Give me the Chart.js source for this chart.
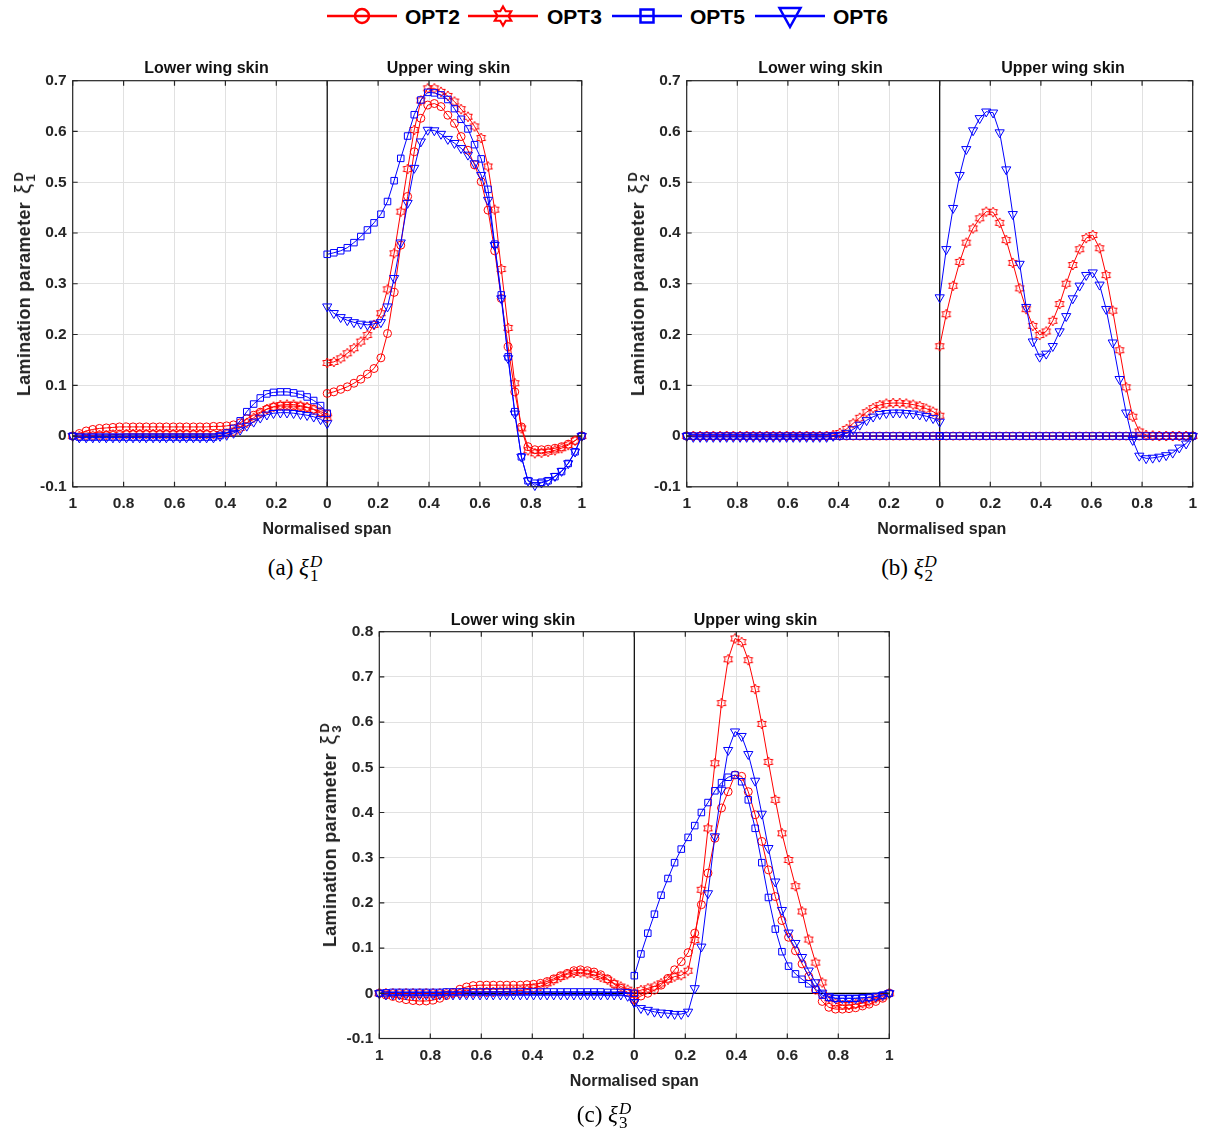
<!DOCTYPE html>
<html><head><meta charset="utf-8">
<script src="https://cdn.jsdelivr.net/npm/chart.js@4.4.1/dist/chart.umd.min.js"></script>
<style>
html,body{margin:0;padding:0;background:#fff;}
body{width:1205px;height:1137px;position:relative;overflow:hidden;font-family:"Liberation Sans",Arial,sans-serif;}
canvas{position:absolute;}
.t{position:absolute;font-weight:bold;color:#111;white-space:nowrap;transform:translate(-50%,-50%);font-size:16px;line-height:20px;}
.yl{position:absolute;font-weight:bold;color:#222;white-space:nowrap;font-size:18px;line-height:24px;transform:translate(-50%,-50%) rotate(-90deg);letter-spacing:0.3px;}
.yl .xi{font-weight:normal;font-size:22px;margin-left:3px;}
.ss{display:inline-flex;flex-direction:column;vertical-align:7px;line-height:12px;font-size:13px;margin-left:2px;}
.cap{position:absolute;font-family:"Liberation Serif","DejaVu Serif",serif;font-size:23px;line-height:26px;white-space:nowrap;transform:translate(-50%,-50%);color:#000;}
.cap .xi{font-style:italic;}
.ss2{display:inline-flex;flex-direction:column;vertical-align:8px;line-height:14px;font-size:17px;margin-left:1px;}
.ss2 .d{font-style:italic;}
.leg{position:absolute;font-weight:bold;font-size:21px;line-height:24px;top:5px;color:#000;}
svg{position:absolute;}
</style>
</head><body>

<!-- legend -->
<svg style="left:327px;top:4px" width="70" height="26"><line x1="0" y1="12" x2="70" y2="12" stroke="#ff0000" stroke-width="2.5"/><circle cx="35" cy="12" r="7" fill="none" stroke="#ff0000" stroke-width="2.5"/></svg>
<div class="leg" style="left:405px">OPT2</div>
<svg style="left:468px;top:4px" width="70" height="26"><line x1="0" y1="12" x2="70" y2="12" stroke="#ff0000" stroke-width="2.5"/><polygon id="hexLeg" fill="none" stroke="#ff0000" stroke-width="2.2"/></svg>
<div class="leg" style="left:547px">OPT3</div>
<svg style="left:612px;top:4px" width="70" height="26"><line x1="0" y1="12" x2="70" y2="12" stroke="#0000ff" stroke-width="2.5"/><rect x="28.5" y="5.5" width="13" height="13" fill="none" stroke="#0000ff" stroke-width="2.5"/></svg>
<div class="leg" style="left:690px">OPT5</div>
<svg style="left:755px;top:4px" width="70" height="28"><line x1="0" y1="12" x2="70" y2="12" stroke="#0000ff" stroke-width="2.5"/><polygon points="24.5,4 45.5,4 35,23" fill="none" stroke="#0000ff" stroke-width="2.5"/></svg>
<div class="leg" style="left:833px">OPT6</div>

<canvas id="ca" width="600" height="480" style="left:0px;top:40px"></canvas>
<canvas id="cb" width="591" height="480" style="left:614px;top:40px"></canvas>
<canvas id="cc" width="600" height="482" style="left:306px;top:590px"></canvas>

<!-- subplot titles -->
<div class="t" style="left:206.5px;top:68px">Lower wing skin</div>
<div class="t" style="left:448.5px;top:68px">Upper wing skin</div>
<div class="t" style="left:820.5px;top:68px">Lower wing skin</div>
<div class="t" style="left:1063px;top:68px">Upper wing skin</div>
<div class="t" style="left:513px;top:619.5px">Lower wing skin</div>
<div class="t" style="left:755.5px;top:619.5px">Upper wing skin</div>

<!-- axis titles -->
<div class="t" style="left:327px;top:529px;color:#222">Normalised span</div>
<div class="t" style="left:941.7px;top:529px;color:#222">Normalised span</div>
<div class="t" style="left:634.3px;top:1081px;color:#222">Normalised span</div>
<div class="yl" style="left:23.5px;top:284px">Lamination parameter <span class="xi">ξ</span><span class="ss"><span>D</span><span>1</span></span></div>
<div class="yl" style="left:638px;top:284px">Lamination parameter <span class="xi">ξ</span><span class="ss"><span>D</span><span>2</span></span></div>
<div class="yl" style="left:330px;top:835px">Lamination parameter <span class="xi">ξ</span><span class="ss"><span>D</span><span>3</span></span></div>

<!-- captions -->
<div class="cap" style="left:295px;top:569px">(a) <span class="xi">ξ</span><span class="ss2"><span class="d">D</span><span>1</span></span></div>
<div class="cap" style="left:909px;top:569px">(b) <span class="xi">ξ</span><span class="ss2"><span class="d">D</span><span>2</span></span></div>
<div class="cap" style="left:604px;top:1116px">(c) <span class="xi">ξ</span><span class="ss2"><span class="d">D</span><span>3</span></span></div>

<script>
// ---------------- data ----------------
// normalised span stations (same on lower and upper skin)
const span = [0,0.026,0.053,0.079,0.105,0.132,0.158,0.184,0.211,0.237,0.263,0.289,0.316,0.342,0.368,0.395,0.421,0.447,0.474,0.5,0.526,0.553,0.579,0.605,0.632,0.658,0.684,0.711,0.737,0.763,0.789,0.816,0.842,0.868,0.895,0.921,0.947,0.974,1];

const xTickValues = [-1,-0.8,-0.6,-0.4,-0.2,0,0.2,0.4,0.6,0.8,1];
const xTickLabels = ['1','0.8','0.6','0.4','0.2','0','0.2','0.4','0.6','0.8','1'];
const yTickValuesAB = [-0.1,0,0.1,0.2,0.3,0.4,0.5,0.6,0.7];
const yTickLabelsAB = ['-0.1','0','0.1','0.2','0.3','0.4','0.5','0.6','0.7'];
const yTickValuesC = [-0.1,0,0.1,0.2,0.3,0.4,0.5,0.6,0.7,0.8];
const yTickLabelsC = ['-0.1','0','0.1','0.2','0.3','0.4','0.5','0.6','0.7','0.8'];

const seriesNames = ['OPT2','OPT3','OPT5','OPT6'];

// (a) xi_1^D
const a_OPT2_lower = [0.043,0.048,0.053,0.056,0.058,0.059,0.059,0.059,0.057,0.053,0.047,0.041,0.034,0.026,0.022,0.020,0.019,0.019,0.018,0.018,0.018,0.018,0.018,0.018,0.018,0.018,0.018,0.018,0.018,0.018,0.018,0.018,0.017,0.016,0.015,0.013,0.010,0.005,0.000];
const a_OPT3_lower = [0.036,0.045,0.052,0.057,0.060,0.062,0.062,0.061,0.058,0.053,0.045,0.036,0.026,0.016,0.009,0.005,0.004,0.004,0.004,0.004,0.004,0.004,0.004,0.004,0.004,0.004,0.004,0.004,0.004,0.004,0.004,0.003,0.003,0.002,0.002,0.001,0.001,0.000,0.000];
const a_OPT5_lower = [0.045,0.060,0.070,0.077,0.082,0.085,0.087,0.087,0.086,0.083,0.075,0.063,0.048,0.030,0.015,0.006,0.001,-0.002,-0.002,-0.002,-0.002,-0.002,-0.002,-0.002,-0.002,-0.002,-0.002,-0.002,-0.002,-0.002,-0.002,-0.002,-0.002,-0.002,-0.002,-0.002,-0.002,-0.002,0.000];
const a_OPT6_lower = [0.025,0.033,0.038,0.041,0.043,0.045,0.046,0.046,0.045,0.042,0.036,0.028,0.020,0.012,0.006,0.002,0.000,-0.003,-0.003,-0.003,-0.003,-0.003,-0.003,-0.003,-0.003,-0.003,-0.003,-0.003,-0.003,-0.003,-0.003,-0.003,-0.003,-0.003,-0.003,-0.003,-0.003,-0.003,0.000];
const a_OPT2_upper = [0.084,0.087,0.092,0.097,0.104,0.112,0.122,0.133,0.154,0.202,0.283,0.376,0.472,0.560,0.626,0.652,0.655,0.649,0.632,0.616,0.590,0.563,0.534,0.501,0.445,0.365,0.271,0.176,0.087,0.018,-0.021,-0.027,-0.027,-0.026,-0.024,-0.021,-0.016,-0.009,0.000];
const a_OPT3_upper = [0.144,0.146,0.153,0.163,0.173,0.186,0.199,0.219,0.242,0.289,0.360,0.442,0.526,0.603,0.661,0.685,0.685,0.678,0.670,0.659,0.644,0.629,0.610,0.587,0.531,0.446,0.329,0.213,0.104,0.015,-0.028,-0.034,-0.033,-0.031,-0.028,-0.024,-0.018,-0.009,0.000];
const a_OPT5_upper = [0.358,0.361,0.365,0.371,0.381,0.393,0.406,0.420,0.437,0.462,0.503,0.547,0.591,0.633,0.662,0.677,0.676,0.672,0.663,0.645,0.624,0.605,0.574,0.546,0.486,0.378,0.278,0.156,0.048,-0.041,-0.088,-0.093,-0.091,-0.088,-0.080,-0.070,-0.054,-0.031,0.000];
const a_OPT6_upper = [0.255,0.242,0.234,0.228,0.224,0.221,0.219,0.221,0.224,0.255,0.311,0.381,0.459,0.528,0.580,0.603,0.602,0.595,0.585,0.577,0.567,0.554,0.537,0.514,0.465,0.376,0.271,0.153,0.044,-0.041,-0.088,-0.097,-0.092,-0.088,-0.079,-0.069,-0.054,-0.031,0.000];

// (b) xi_2^D
const b_OPT2_lower = [0,0,0,0,0,0,0,0,0,0,0,0,0,0,0,0,0,0,0,0,0,0,0,0,0,0,0,0,0,0,0,0,0,0,0,0,0,0,0];
const b_OPT3_lower = [0.040,0.048,0.054,0.059,0.062,0.064,0.065,0.065,0.064,0.061,0.055,0.047,0.036,0.025,0.014,0.006,0.002,0,0,0,0,0,0,0,0,0,0,0,0,0,0,0,0,0,0,0,0,0,0];
const b_OPT5_lower = [0,0,0,0,0,0,0,0,0,0,0,0,0,0,0,0,0,0,0,0,0,0,0,0,0,0,0,0,0,0,0,0,0,0,0,0,0,0,0];
const b_OPT6_lower = [0.028,0.035,0.039,0.042,0.044,0.045,0.046,0.046,0.045,0.043,0.038,0.031,0.022,0.013,0.006,0.002,0.000,-0.002,-0.002,-0.002,-0.002,-0.002,-0.002,-0.002,-0.002,-0.002,-0.002,-0.002,-0.002,-0.002,-0.002,-0.002,-0.002,-0.002,-0.002,-0.002,-0.002,-0.002,0.000];
const b_OPT2_upper = [0,0,0,0,0,0,0,0,0,0,0,0,0,0,0,0,0,0,0,0,0,0,0,0,0,0,0,0,0,0,0,0,0,0,0,0,0,0,0];
const b_OPT3_upper = [0.177,0.240,0.296,0.343,0.381,0.409,0.429,0.442,0.441,0.420,0.386,0.341,0.291,0.250,0.217,0.199,0.206,0.227,0.260,0.300,0.337,0.368,0.390,0.396,0.370,0.317,0.247,0.169,0.096,0.038,0.009,0.002,0.001,0,0,0,0,0,0];
const b_OPT5_upper = [0,0,0,0,0,0,0,0,0,0,0,0,0,0,0,0,0,0,0,0,0,0,0,0,0,0,0,0,0,0,0,0,0,0,0,0,0,0,0];
const b_OPT6_upper = [0.273,0.368,0.449,0.514,0.565,0.602,0.626,0.639,0.637,0.598,0.525,0.437,0.339,0.254,0.186,0.156,0.162,0.177,0.206,0.236,0.271,0.296,0.317,0.322,0.298,0.250,0.184,0.112,0.046,-0.008,-0.039,-0.044,-0.043,-0.041,-0.038,-0.033,-0.023,-0.015,0.000];

// (c) xi_3^D
const c_OPT2_lower = [-0.012,0.002,0.011,0.020,0.032,0.041,0.047,0.050,0.052,0.050,0.044,0.039,0.032,0.026,0.022,0.020,0.019,0.018,0.018,0.018,0.018,0.018,0.018,0.018,0.017,0.014,0.009,0.002,-0.005,-0.011,-0.015,-0.017,-0.017,-0.016,-0.014,-0.011,-0.007,-0.004,0.000];
const c_OPT3_lower = [0.000,0.008,0.015,0.022,0.030,0.036,0.041,0.044,0.046,0.045,0.042,0.036,0.029,0.022,0.016,0.011,0.008,0.006,0.005,0.004,0.004,0.003,0.003,0.002,0.002,0.001,0,0,0,0,0,0,0,0,0,0,0,0,0];
const c_OPT5_lower = [0.000,0.001,0.002,0.002,0.002,0.003,0.003,0.003,0.003,0.003,0.003,0.003,0.003,0.003,0.003,0.003,0.003,0.003,0.003,0.003,0.003,0.003,0.003,0.003,0.003,0.003,0.003,0.003,0.003,0.002,0.002,0.002,0.002,0.002,0.002,0.002,0.002,0.001,0.000];
const c_OPT6_lower = [-0.020,-0.006,-0.003,-0.003,-0.003,-0.003,-0.003,-0.003,-0.003,-0.003,-0.003,-0.003,-0.003,-0.003,-0.003,-0.003,-0.003,-0.003,-0.003,-0.003,-0.003,-0.003,-0.003,-0.003,-0.003,-0.003,-0.003,-0.003,-0.003,-0.003,-0.003,-0.003,-0.003,-0.003,-0.003,-0.003,-0.003,-0.003,0.000];
const c_OPT2_upper = [-0.015,-0.006,0.000,0.007,0.018,0.033,0.052,0.070,0.090,0.133,0.196,0.266,0.343,0.410,0.446,0.483,0.480,0.446,0.395,0.336,0.273,0.214,0.161,0.124,0.094,0.065,0.037,0.007,-0.018,-0.031,-0.035,-0.035,-0.034,-0.032,-0.028,-0.024,-0.018,-0.011,0.000];
const c_OPT3_upper = [0.000,0.007,0.011,0.015,0.022,0.030,0.037,0.040,0.050,0.118,0.229,0.365,0.509,0.642,0.739,0.785,0.777,0.737,0.673,0.596,0.512,0.428,0.354,0.295,0.237,0.181,0.119,0.068,0.024,-0.011,-0.022,-0.026,-0.026,-0.024,-0.022,-0.018,-0.011,-0.007,0.000];
const c_OPT5_upper = [0.039,0.087,0.133,0.175,0.217,0.254,0.289,0.319,0.345,0.371,0.400,0.422,0.448,0.466,0.478,0.483,0.468,0.428,0.365,0.289,0.212,0.142,0.092,0.060,0.043,0.031,0.021,0.009,-0.004,-0.009,-0.011,-0.011,-0.011,-0.011,-0.010,-0.009,-0.007,-0.004,0.000];
const c_OPT6_upper = [-0.020,-0.033,-0.037,-0.041,-0.043,-0.044,-0.046,-0.046,-0.041,0.011,0.103,0.221,0.347,0.450,0.538,0.579,0.569,0.529,0.470,0.397,0.321,0.247,0.184,0.134,0.111,0.080,0.050,0.024,0.001,-0.007,-0.011,-0.011,-0.011,-0.011,-0.010,-0.009,-0.007,-0.004,0.000];

// ---------------- styling ----------------
const RED = '#ff0000', BLUE = '#0000ff';

function hexagramCanvas(color, R, lw) {
  const size = Math.ceil(2 * R + 2 * lw + 2);
  const c = document.createElement('canvas');
  c.width = c.height = size;
  const g = c.getContext('2d');
  const cx = size / 2, cy = size / 2;
  g.beginPath();
  for (let k = 0; k < 12; k++) {
    const ang = (-90 + 30 * k) * Math.PI / 180;
    const r = k % 2 === 0 ? R : R / Math.sqrt(3);
    const px = cx + r * Math.cos(ang), py = cy + r * Math.sin(ang);
    if (k) g.lineTo(px, py); else g.moveTo(px, py);
  }
  g.closePath();
  g.strokeStyle = color; g.lineWidth = lw; g.stroke();
  return c;
}
// legend hexagram
(function () {
  const pts = [];
  for (let k = 0; k < 12; k++) {
    const ang = (-90 + 30 * k) * Math.PI / 180;
    const r = k % 2 === 0 ? 9.5 : 9.5 / Math.sqrt(3);
    pts.push((35 + r * Math.cos(ang)).toFixed(2) + ',' + (12 + r * Math.sin(ang)).toFixed(2));
  }
  document.getElementById('hexLeg').setAttribute('points', pts.join(' '));
})();

const hexImg = hexagramCanvas(RED, 5, 1);
const styles = {
  OPT2: {color: RED, pointStyle: 'circle', radius: 4, rotation: 0, order: 4},
  OPT3: {color: RED, pointStyle: hexImg, radius: 5, rotation: 0, order: 3},
  OPT5: {color: BLUE, pointStyle: 'rect', radius: 4.6, rotation: 0, order: 2},
  OPT6: {color: BLUE, pointStyle: 'triangle', radius: 5.3, rotation: 180, order: 1}
};

function side(vals, sign) {
  return span.map((s, i) => ({x: sign * s, y: vals[i]}));
}
function buildDatasets(lowerArrs, upperArrs) {
  const ds = [];
  seriesNames.forEach((name, k) => {
    const st = styles[name];
    [[lowerArrs[k], -1], [upperArrs[k], 1]].forEach(([vals, sgn]) => {
      ds.push({
        label: name,
        data: side(vals, sgn),
        showLine: true,
        borderColor: st.color,
        borderWidth: 1,
        backgroundColor: 'rgba(0,0,0,0)',
        pointStyle: st.pointStyle,
        pointRadius: st.radius,
        pointRotation: st.rotation,
        pointBorderColor: st.color,
        pointBackgroundColor: 'rgba(0,0,0,0)',
        pointBorderWidth: 1,
        tension: 0,
        clip: false,
        order: st.order
      });
    });
  });
  return ds;
}

const framePlugin = {
  id: 'frame',
  beforeDatasetsDraw(chart) {
    const {ctx, chartArea: a, scales} = chart;
    const x0 = scales.x.getPixelForValue(0), y0 = scales.y.getPixelForValue(0);
    ctx.save();
    ctx.strokeStyle = '#000'; ctx.lineWidth = 1.2;
    ctx.beginPath();
    ctx.moveTo(a.left, y0); ctx.lineTo(a.right, y0);
    ctx.moveTo(x0, a.top); ctx.lineTo(x0, a.bottom);
    ctx.stroke();
    ctx.restore();
  },
  afterDatasetsDraw(chart) {
    const {ctx, chartArea: a, scales} = chart;
    ctx.save();
    ctx.strokeStyle = '#262626'; ctx.lineWidth = 1.2;
    ctx.strokeRect(a.left, a.top, a.right - a.left, a.bottom - a.top);
    ctx.beginPath();
    const tl = 5;
    scales.x.ticks.forEach(t => {
      const p = scales.x.getPixelForValue(t.value);
      ctx.moveTo(p, a.bottom); ctx.lineTo(p, a.bottom - tl);
      ctx.moveTo(p, a.top); ctx.lineTo(p, a.top + tl);
    });
    scales.y.ticks.forEach(t => {
      const p = scales.y.getPixelForValue(t.value);
      ctx.moveTo(a.left, p); ctx.lineTo(a.left + tl, p);
      ctx.moveTo(a.right, p); ctx.lineTo(a.right - tl, p);
    });
    ctx.stroke();
    ctx.restore();
  }
};

const tickFont = {family: "'Liberation Sans', Arial, sans-serif", size: 15.5, weight: 'bold'};

function makeChart(id, datasets, yMax, yVals, yLabels, geom) {
  return new Chart(document.getElementById(id), {
    type: 'scatter',
    data: {datasets},
    options: {
      responsive: false,
      animation: false,
      devicePixelRatio: 1,
      events: [],
      layout: {padding: {left: 0, right: geom.padRight, top: geom.padTop, bottom: 0}},
      plugins: {legend: {display: false}, tooltip: {enabled: false}},
      scales: {
        x: {
          type: 'linear', min: -1, max: 1,
          afterBuildTicks: s => { s.ticks = xTickValues.map(v => ({value: v})); },
          afterFit: s => { s.height = geom.xHeight; },
          ticks: {autoSkip: false, maxRotation: 0, minRotation: 0, padding: 8, color: '#262626', font: tickFont,
                  callback: (v, i) => xTickLabels[i]},
          grid: {color: '#e1e1e1', lineWidth: 1, drawTicks: false},
          border: {display: false}
        },
        y: {
          type: 'linear', min: -0.1, max: yMax,
          afterBuildTicks: s => { s.ticks = yVals.map(v => ({value: v})); },
          afterFit: s => { s.width = geom.yWidth; },
          ticks: {autoSkip: false, padding: 6, color: '#262626', font: tickFont,
                  callback: (v, i) => yLabels[i]},
          grid: {color: '#e1e1e1', lineWidth: 1, drawTicks: false},
          border: {display: false}
        }
      }
    },
    plugins: [framePlugin]
  });
}

makeChart('ca',
  buildDatasets([a_OPT2_lower, a_OPT3_lower, a_OPT5_lower, a_OPT6_lower],
                [a_OPT2_upper, a_OPT3_upper, a_OPT5_upper, a_OPT6_upper]),
  0.7, yTickValuesAB, yTickLabelsAB,
  {padRight: 18.3, padTop: 40.7, yWidth: 72.7, xHeight: 33.2});

makeChart('cb',
  buildDatasets([b_OPT2_lower, b_OPT3_lower, b_OPT5_lower, b_OPT6_lower],
                [b_OPT2_upper, b_OPT3_upper, b_OPT5_upper, b_OPT6_upper]),
  0.7, yTickValuesAB, yTickLabelsAB,
  {padRight: 8.3, padTop: 40.7, yWidth: 72.7, xHeight: 33.2});

makeChart('cc',
  buildDatasets([c_OPT2_lower, c_OPT3_lower, c_OPT5_lower, c_OPT6_lower],
                [c_OPT2_upper, c_OPT3_upper, c_OPT5_upper, c_OPT6_upper]),
  0.8, yTickValuesC, yTickLabelsC,
  {padRight: 16.7, padTop: 41.7, yWidth: 73.3, xHeight: 33.5});
</script>
</body></html>
